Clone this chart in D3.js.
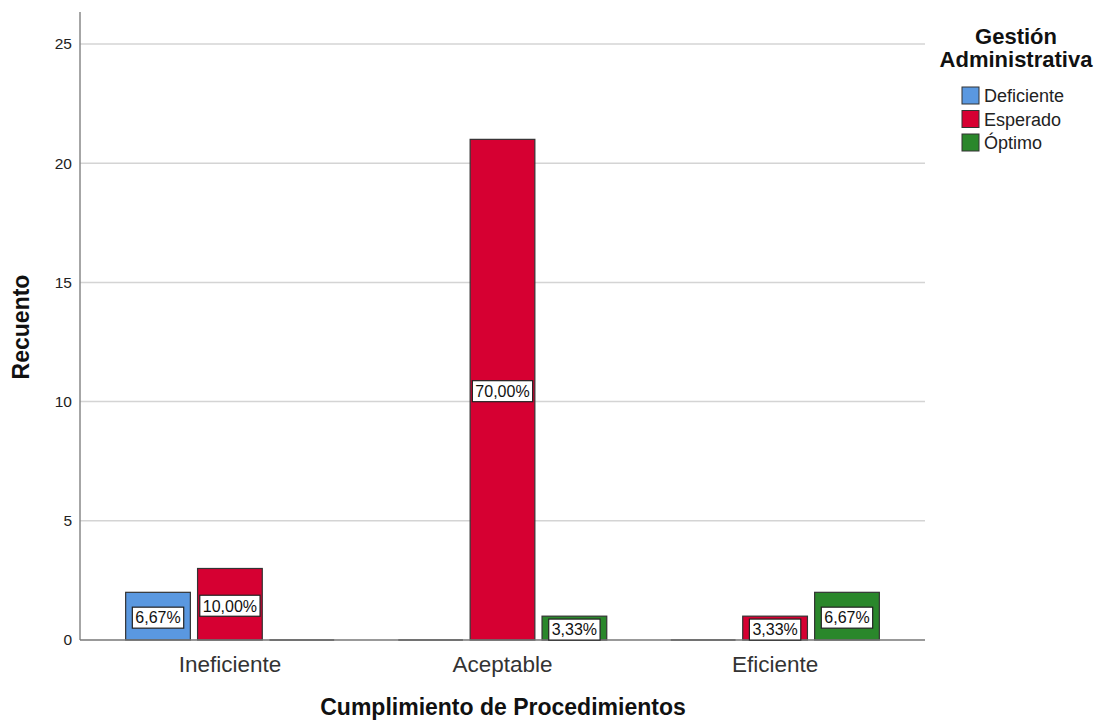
<!DOCTYPE html>
<html>
<head>
<meta charset="utf-8">
<script src="https://cdn.jsdelivr.net/npm/d3@7/dist/d3.min.js"></script>
<style>
  html, body { margin: 0; padding: 0; background: #fff; }
  svg { display: block; font-family: Arial, "Liberation Sans", sans-serif; }
</style>
</head>
<body>
<svg id="chart" width="1099" height="722"></svg>
<script>
// Counts of "Gestión Administrativa" per level of "Cumplimiento de Procedimientos"
const categories = ["Ineficiente", "Aceptable", "Eficiente"];
const seriesNames = ["Deficiente", "Esperado", "Óptimo"];
const deficiente = [2, 0, 0];
const esperado = [3, 21, 1];
const optimo = [0, 1, 2];
const totalN = 30;
const yTicks = [0, 5, 10, 15, 20, 25];
const colors = ["#5a98e0", "#d60032", "#2a872b"];

const seriesValues = [deficiente, esperado, optimo];
const rows = [];
categories.forEach((c, ci) => {
  seriesNames.forEach((s, si) => {
    rows.push({ cat: c, series: s, si, value: seriesValues[si][ci] });
  });
});

const svg = d3.select("#chart");
const plotLeft = 80, plotRight = 925, plotTop = 12, plotBottom = 640;

const y = d3.scaleLinear().domain([0, 25]).range([plotBottom, 44]);
const x0 = d3.scaleBand().domain(categories).range([plotLeft, plotRight])
  .paddingInner(0).paddingOuter(0.05);
const groupW = x0.bandwidth() * 0.765;
const x1 = d3.scaleBand().domain(seriesNames).range([0, groupW]).paddingInner(0.1);

// gridlines
svg.append("g")
  .selectAll("line").data(yTicks.filter(t => t > 0)).join("line")
  .attr("x1", plotLeft).attr("x2", plotRight)
  .attr("y1", d => y(d)).attr("y2", d => y(d))
  .attr("stroke", "#d4d4d4").attr("stroke-width", 1.5);

// y axis
const yAxis = svg.append("g").attr("transform", `translate(${plotLeft},0)`)
  .call(d3.axisLeft(y).tickValues(yTicks).tickSize(0).tickPadding(8));
yAxis.select(".domain").remove();
yAxis.selectAll("text").attr("font-size", 15.5).attr("fill", "#222")
  .attr("font-family", "Arial, 'Liberation Sans', sans-serif");
svg.append("line").attr("x1", plotLeft).attr("x2", plotLeft).attr("y1", plotTop).attr("y2", plotBottom)
  .attr("stroke", "#888").attr("stroke-width", 1.5);

// bars
const bars = svg.append("g");
rows.forEach(d => {
  const bx = x0(d.cat) + (x0.bandwidth() - groupW) / 2 + x1(d.series);
  const bw = x1.bandwidth();
  if (d.value > 0) {
    bars.append("rect")
      .attr("x", bx).attr("y", y(d.value))
      .attr("width", bw).attr("height", y(0) - y(d.value))
      .attr("fill", colors[d.si]).attr("stroke", "#333").attr("stroke-width", 1.2);
  } else {
    bars.append("line")
      .attr("x1", bx).attr("x2", bx + bw).attr("y1", y(0)).attr("y2", y(0))
      .attr("stroke", "#333").attr("stroke-width", 1.5);
  }
});

// baseline (x axis)
svg.append("line").attr("x1", plotLeft).attr("x2", plotRight).attr("y1", plotBottom).attr("y2", plotBottom)
  .attr("stroke", "#777").attr("stroke-width", 1.3);

// percentage labels
const labels = svg.append("g");
rows.filter(d => d.value > 0).forEach(d => {
  const cx = x0(d.cat) + (x0.bandwidth() - groupW) / 2 + x1(d.series) + x1.bandwidth() / 2;
  const cy = (y(d.value) + y(0)) / 2 + 1.5;
  const txt = (d.value / totalN * 100).toFixed(2).replace(".", ",") + "%";
  const g = labels.append("g");
  const t = g.append("text").attr("x", cx).attr("y", cy).attr("dy", "0.36em")
    .attr("text-anchor", "middle").attr("font-size", 16).attr("fill", "#111").text(txt);
  const bb = t.node().getBBox();
  g.insert("rect", "text")
    .attr("x", bb.x - 3).attr("y", cy - 10.5).attr("width", bb.width + 6).attr("height", 21)
    .attr("fill", "#fff").attr("stroke", "#222").attr("stroke-width", 1.2);
});

// category labels
svg.append("g").selectAll("text").data(categories).join("text")
  .attr("x", d => x0(d) + x0.bandwidth() / 2).attr("y", 672)
  .attr("text-anchor", "middle").attr("font-size", 22.5).attr("fill", "#333")
  .text(d => d);

// axis titles
svg.append("text").attr("x", 503).attr("y", 715).attr("text-anchor", "middle")
  .attr("font-size", 23).attr("font-weight", "bold").attr("fill", "#111")
  .text("Cumplimiento de Procedimientos");
svg.append("text").attr("transform", "translate(29,327) rotate(-90)").attr("text-anchor", "middle")
  .attr("font-size", 23).attr("font-weight", "bold").attr("fill", "#111")
  .text("Recuento");

// legend
const legend = svg.append("g");
legend.append("text").attr("x", 1016).attr("y", 44).attr("text-anchor", "middle")
  .attr("font-size", 22).attr("font-weight", "bold").attr("fill", "#111").text("Gestión");
legend.append("text").attr("x", 1016).attr("y", 67).attr("text-anchor", "middle")
  .attr("font-size", 22).attr("font-weight", "bold").attr("fill", "#111").text("Administrativa");
seriesNames.forEach((s, i) => {
  const ly = 87 + i * 23.5;
  legend.append("rect").attr("x", 962).attr("y", ly).attr("width", 17).attr("height", 17)
    .attr("fill", colors[i]).attr("stroke", "#333").attr("stroke-width", 1);
  legend.append("text").attr("x", 984).attr("y", ly + 9).attr("dy", "0.36em")
    .attr("font-size", 18).attr("fill", "#222").text(s);
});
</script>
</body>
</html>
